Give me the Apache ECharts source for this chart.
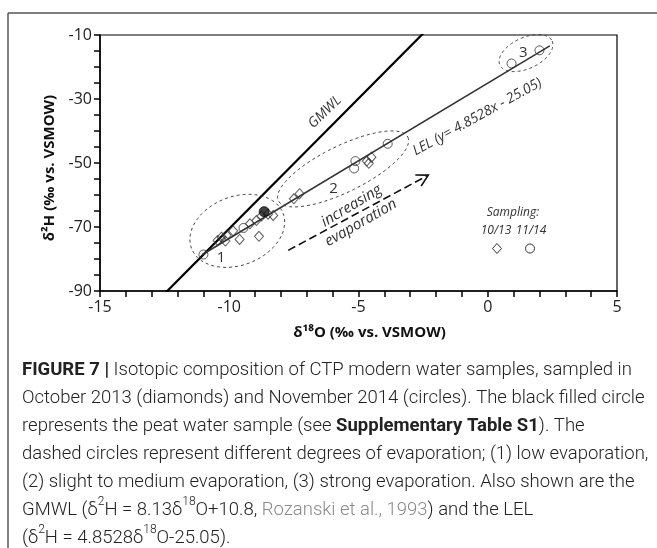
<!DOCTYPE html>
<html>
<head>
<meta charset="utf-8">
<script src="https://cdn.jsdelivr.net/npm/echarts@6/dist/echarts.min.js"></script>
<style>
  html, body { margin: 0; padding: 0; background: #fff; }
  #chart { width: 657px; height: 548px; }
</style>
</head>
<body>
<div id="chart"></div>
<script>
// Axis ranges and tick labels
const xTickLabels = [-15, -10, -5, 0, 5];
const yTickLabels = [-90, -70, -50, -30, -10];

// δ18O, δ2H (‰ vs. VSMOW) — October 2013 sampling (diamonds)
const oct2013 = [
  [-10.45, -74.2], [-10.3, -73.2], [-10.15, -74.4], [-10.1, -72.6],
  [-9.85, -71.2], [-9.6, -73.9], [-9.2, -69.0], [-8.95, -68.0],
  [-8.85, -72.9], [-8.75, -66.6], [-8.5, -66.0], [-8.3, -66.4],
  [-7.5, -61.2], [-7.28, -59.6],
  [-4.68, -49.4], [-4.5, -48.2], [-4.6, -50.1]
];
// November 2014 sampling (circles)
const nov2014 = [
  [-11.0, -78.6], [-9.45, -70.3],
  [-5.12, -49.4], [-5.17, -51.7], [-3.87, -44.0],
  [0.92, -18.9], [2.0, -14.8]
];
// Peat water sample (filled circle)
const peatWater = [[-8.65, -65.2]];

// Line equations: δ2H = slope·δ18O + intercept
const gmwlCoef = [8.13, 10.8];      // Rozanski et al., 1993
const lelCoef = [4.8528, -25.05];   // local evaporation line
const gmwlRange = [-14, -1];        // clipped by the plot area
const lelRange = [-11.05, 2.4];

// Evaporation zones: major-axis end points (δ18O, δ2H) and minor/major ratio
const zones = [
  [-11.46, -76.7, -7.92, -65.7, 0.7],
  [-8.1, -61.8, -3.09, -41.9, 0.32],
  [0.47, -19.4, 2.49, -11.9, 0.54]
];

// In-plot labels: position (δ18O, δ2H), text, rotation in degrees
const notes = [
  { at: [-6.30, -34.1], text: 'GMWL', rot: 44, size: 14, italic: true },
  { at: [-0.40, -35.6], text: 'LEL (y= 4.8528x - 25.05)', rot: 29, size: 14, italic: true },
  { at: [-5.27, -63.4], text: 'increasing', rot: 31, size: 15, italic: true },
  { at: [-4.91, -68.7], text: 'evaporation', rot: 30, size: 15, italic: true },
  { at: [-10.32, -79.7], text: '1', rot: 0, size: 15, italic: false },
  { at: [-5.97, -57.9], text: '2', rot: 0, size: 15, italic: false },
  { at: [1.375, -15.5], text: '3', rot: 0, size: 15, italic: false }
];

// "increasing evaporation" arrow, from → to
const trendArrow = [[-7.72, -77.3, -2.30, -53.8]];

const lineThrough = (coef, range) => range.map(x => [x, coef[0] * x + coef[1]]);

const FONT = '"Open Sans", "Noto Sans", sans-serif';
const CAPFONT = 'Roboto, "Liberation Sans", sans-serif';

function renderZone(params, api) {
  const p1 = api.coord([api.value(0), api.value(1)]);
  const p2 = api.coord([api.value(2), api.value(3)]);
  const cx = (p1[0] + p2[0]) / 2, cy = (p1[1] + p2[1]) / 2;
  const dx = p2[0] - p1[0], dy = p2[1] - p1[1];
  const a = Math.hypot(dx, dy) / 2, b = a * api.value(4);
  const t = Math.atan2(dy, dx);
  const pts = [];
  for (let i = 0; i < 96; i++) {
    const s = i / 96 * 2 * Math.PI;
    const u = a * Math.cos(s), v = b * Math.sin(s);
    pts.push([cx + u * Math.cos(t) - v * Math.sin(t), cy + u * Math.sin(t) + v * Math.cos(t)]);
  }
  return {
    type: 'polygon',
    shape: { points: pts },
    style: { fill: 'none', stroke: '#444', lineWidth: 1, lineDash: [3, 3] }
  };
}

function renderNote(params, api) {
  const n = notes[params.dataIndex];
  const p = api.coord([api.value(0), api.value(1)]);
  return {
    type: 'text',
    x: p[0], y: p[1],
    rotation: n.rot * Math.PI / 180,
    style: {
      text: n.text,
      fontFamily: FONT,
      fontSize: n.size,
      fontStyle: n.italic ? 'italic' : 'normal',
      fill: '#333',
      align: 'center', verticalAlign: 'middle',
      textAlign: 'center', textVerticalAlign: 'middle'
    }
  };
}

function renderArrow(params, api) {
  const p1 = api.coord([api.value(0), api.value(1)]);
  const p2 = api.coord([api.value(2), api.value(3)]);
  const t = Math.atan2(p2[1] - p1[1], p2[0] - p1[0]);
  const L = 13, w = 0.5;
  const h1 = [p2[0] - L * Math.cos(t - w), p2[1] - L * Math.sin(t - w)];
  const h2 = [p2[0] - L * Math.cos(t + w), p2[1] - L * Math.sin(t + w)];
  return {
    type: 'group',
    children: [
      { type: 'line', shape: { x1: p1[0], y1: p1[1], x2: p2[0], y2: p2[1] },
        style: { stroke: '#111', lineWidth: 1.6, lineDash: [8, 4] } },
      { type: 'polyline', shape: { points: [h1, p2, h2] },
        style: { stroke: '#111', lineWidth: 1.6, fill: 'none' } }
    ]
  };
}

const axisCommon = {
  axisLine: { onZero: false, lineStyle: { color: '#000', width: 1.5 } },
  axisTick: { length: 6, lineStyle: { color: '#000', width: 1.5 } },
  minorTick: { show: true, length: 6, lineStyle: { color: '#000', width: 1.5 } },
  splitLine: { show: false },
  minorSplitLine: { show: false },
  axisLabel: { fontFamily: FONT, fontSize: 16, color: '#222', margin: 8 },
  nameLocation: 'middle'
};

const nameStyle = { fontFamily: FONT, fontSize: 15, fontWeight: 'bold', color: '#111' };

const caption = [
  '{b|FIGURE 7 |} Isotopic composition of CTP modern water samples, sampled in',
  'October 2013 (diamonds) and November 2014 (circles). The black filled circle',
  'represents the peat water sample (see {b|Supplementary Table S1}). The',
  'dashed circles represent different degrees of evaporation; (1) low evaporation,',
  '(2) slight to medium evaporation, (3) strong evaporation. Also shown are the',
  'GMWL (δ{s|2}H = 8.13δ{s|18}O+10.8, {g|Rozanski et al., 1993}) and the LEL',
  '(δ{s|2}H = 4.8528δ{s|18}O-25.05).'
].join('\n');

const legendText = { fontFamily: FONT, fontSize: 12, fontStyle: 'italic', fill: '#333', align: 'center', verticalAlign: 'middle' };

const chart = echarts.init(document.getElementById('chart'), null, { renderer: 'canvas' });

chart.setOption({
  backgroundColor: '#fff',
  animation: false,
  grid: { left: 100, right: 40, top: 35, bottom: 257, show: true, borderColor: '#000', borderWidth: 1.2 },
  xAxis: Object.assign({}, axisCommon, {
    type: 'value',
    min: xTickLabels[0], max: xTickLabels[xTickLabels.length - 1], interval: 5,
    minorTick: Object.assign({}, axisCommon.minorTick, { splitNumber: 5 }),
    name: 'δ¹⁸O (‰ vs. VSMOW)', nameGap: 34,
    nameTextStyle: Object.assign({ padding: [0, 0, 0, 22] }, nameStyle)
  }),
  yAxis: Object.assign({}, axisCommon, {
    type: 'value',
    min: yTickLabels[0], max: yTickLabels[yTickLabels.length - 1], interval: 20,
    minorTick: Object.assign({}, axisCommon.minorTick, { splitNumber: 4 }),
    name: 'δ²H (‰ vs. VSMOW)', nameGap: 40,
    nameTextStyle: Object.assign({ padding: [0, 10, 0, 0] }, nameStyle)
  }),
  series: [
    {
      name: 'GMWL', type: 'line', data: lineThrough(gmwlCoef, gmwlRange),
      showSymbol: false, clip: true, silent: true,
      lineStyle: { color: '#000', width: 2.2 }, z: 2
    },
    {
      name: 'LEL', type: 'line', data: lineThrough(lelCoef, lelRange),
      showSymbol: false, clip: true, silent: true,
      lineStyle: { color: '#333', width: 1.6 }, z: 2
    },
    {
      name: 'zones', type: 'custom', renderItem: renderZone, data: zones,
      encode: { x: [0, 2], y: [1, 3] }, silent: true, z: 3
    },
    {
      name: 'arrow', type: 'custom', renderItem: renderArrow, data: trendArrow,
      encode: { x: [0, 2], y: [1, 3] }, silent: true, z: 3
    },
    {
      name: 'notes', type: 'custom', renderItem: renderNote,
      data: notes.map(n => n.at), encode: { x: 0, y: 1 }, silent: true, z: 4
    },
    {
      name: '10/13', type: 'scatter', data: oct2013, symbol: 'diamond', symbolSize: [9, 10],
      itemStyle: { color: 'rgba(255,255,255,0)', borderColor: '#333', borderWidth: 1 }, z: 5
    },
    {
      name: '11/14', type: 'scatter', data: nov2014, symbol: 'circle', symbolSize: 9,
      itemStyle: { color: 'rgba(255,255,255,0)', borderColor: '#333', borderWidth: 1 }, z: 5
    },
    {
      name: 'peat water', type: 'scatter', data: peatWater, symbol: 'circle', symbolSize: 10,
      itemStyle: { color: '#111', borderColor: '#111', borderWidth: 1 }, z: 6
    }
  ],
  graphic: [
    // figure frame
    { type: 'line', shape: { x1: 8, y1: 13, x2: 657, y2: 13 }, style: { stroke: '#555', lineWidth: 1.5 } },
    { type: 'line', shape: { x1: 8, y1: 13, x2: 8, y2: 548 }, style: { stroke: '#555', lineWidth: 1.5 } },
    // sampling legend
    { type: 'text', x: 513, y: 213, style: Object.assign({ text: 'Sampling:' }, legendText) },
    { type: 'text', x: 496, y: 231, style: Object.assign({ text: '10/13' }, legendText) },
    { type: 'text', x: 531, y: 231, style: Object.assign({ text: '11/14' }, legendText) },
    { type: 'polygon', shape: { points: [[497, 243.5], [501.5, 248.5], [497, 253.5], [492.5, 248.5]] }, style: { fill: 'none', stroke: '#333', lineWidth: 1 } },
    { type: 'circle', shape: { cx: 530, cy: 248.5, r: 4.5 }, style: { fill: 'none', stroke: '#333', lineWidth: 1 } },
    // caption
    {
      type: 'text', left: 22, top: 356,
      style: {
        text: caption,
        fontFamily: CAPFONT, fontSize: 18.5, fontWeight: 300, fill: '#222',
        lineHeight: 28,
        rich: {
          b: { fontFamily: CAPFONT, fontSize: 18.5, fontWeight: 'bold', fill: '#222', lineHeight: 28 },
          s: { fontFamily: CAPFONT, fontSize: 12, fontWeight: 300, fill: '#222', lineHeight: 16, verticalAlign: 'top' },
          g: { fontFamily: CAPFONT, fontSize: 18.5, fontWeight: 300, fill: '#8a8a8a', lineHeight: 28 }
        }
      }
    }
  ]
});
</script>
</body>
</html>
